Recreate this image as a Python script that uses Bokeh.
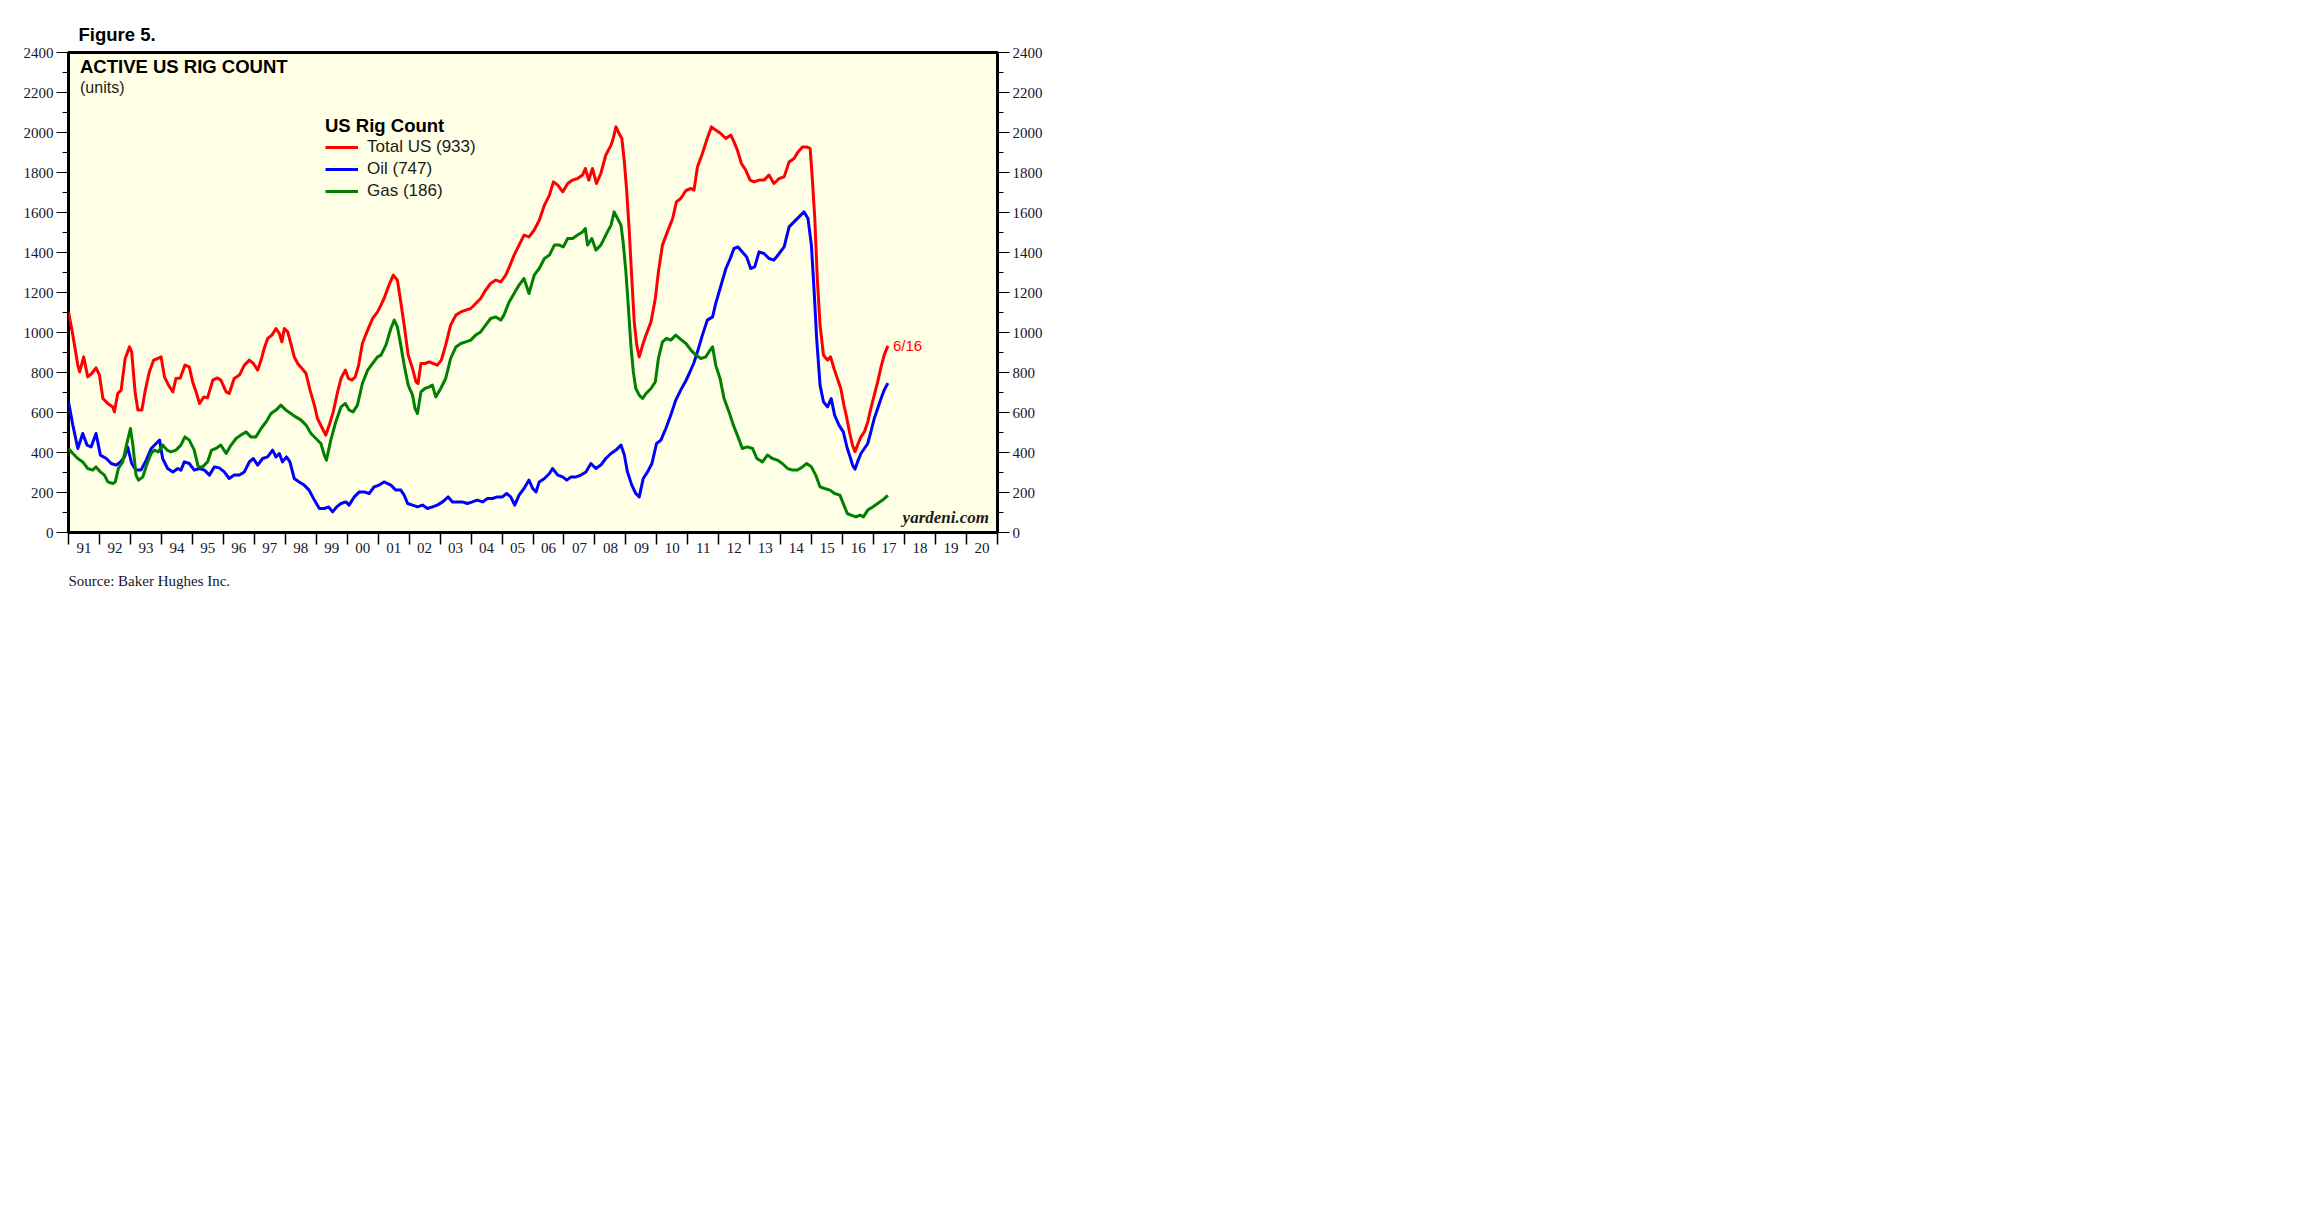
from bokeh.plotting import figure
from bokeh.models import Range1d, FixedTicker, LinearAxis, Label, Legend, LegendItem, Title
from bokeh.embed import file_html
from bokeh.resources import INLINE

# ---- data ----
total_dates = [1991.00, 1991.14, 1991.30, 1991.36, 1991.49, 1991.62, 1991.75, 1991.89, 1992.00, 1992.11,
               1992.27, 1992.43, 1992.48, 1992.59, 1992.70, 1992.83, 1992.97, 1993.04, 1993.15, 1993.24,
               1993.37, 1993.47, 1993.61, 1993.75, 1993.88, 1993.99, 1994.10, 1994.23, 1994.37, 1994.47,
               1994.61, 1994.76, 1994.90, 1995.01, 1995.12, 1995.23, 1995.37, 1995.49, 1995.66, 1995.80,
               1995.92, 1996.09, 1996.19, 1996.35, 1996.52, 1996.68, 1996.84, 1996.97, 1997.11, 1997.22,
               1997.32, 1997.43, 1997.57, 1997.70, 1997.81, 1997.89, 1997.97, 1998.08, 1998.18, 1998.29,
               1998.40, 1998.54, 1998.67, 1998.80, 1998.94, 1999.04, 1999.20, 1999.31, 1999.42, 1999.55,
               1999.69, 1999.80, 1999.94, 2000.04, 2000.15, 2000.26, 2000.37, 2000.49, 2000.66, 2000.82,
               2000.98, 2001.09, 2001.19, 2001.35, 2001.49, 2001.62, 2001.73, 2001.84, 2001.97, 2002.11,
               2002.22, 2002.29, 2002.38, 2002.51, 2002.65, 2002.78, 2002.91, 2003.04, 2003.18, 2003.34,
               2003.51, 2003.67, 2003.83, 2003.99, 2004.15, 2004.31, 2004.47, 2004.63, 2004.80, 2004.96,
               2005.12, 2005.26, 2005.39, 2005.55, 2005.71, 2005.87, 2006.03, 2006.20, 2006.37, 2006.53,
               2006.66, 2006.80, 2006.96, 2007.12, 2007.28, 2007.44, 2007.60, 2007.69, 2007.80, 2007.92,
               2008.05, 2008.19, 2008.35, 2008.52, 2008.59, 2008.68, 2008.78, 2008.87, 2008.95, 2009.02,
               2009.11, 2009.19, 2009.27, 2009.35, 2009.43, 2009.54, 2009.65, 2009.81, 2009.95, 2010.05,
               2010.18, 2010.34, 2010.51, 2010.63, 2010.77, 2010.94, 2011.10, 2011.20, 2011.31, 2011.47,
               2011.61, 2011.76, 2011.90, 2012.06, 2012.23, 2012.39, 2012.49, 2012.60, 2012.73, 2012.87,
               2013.01, 2013.14, 2013.30, 2013.46, 2013.62, 2013.78, 2013.95, 2014.11, 2014.27, 2014.43,
               2014.56, 2014.70, 2014.84, 2014.95, 2015.02, 2015.10, 2015.18, 2015.27, 2015.38, 2015.51,
               2015.61, 2015.72, 2015.83, 2015.94, 2016.04, 2016.11, 2016.22, 2016.32, 2016.40, 2016.48,
               2016.59, 2016.70, 2016.81, 2016.91, 2017.02, 2017.13, 2017.24, 2017.34, 2017.46]
total_vals = [1103, 987, 837, 803, 878, 778, 795, 823, 787, 670,
              645, 628, 603, 695, 712, 870, 928, 903, 703, 612,
              612, 703, 803, 862, 870, 878, 778, 737, 703, 770,
              773, 837, 828, 753, 703, 645, 678, 673, 762, 773,
              762, 703, 695, 770, 787, 837, 862, 845, 812, 862,
              920, 970, 987, 1020, 995, 953, 1020, 1003, 945, 878,
              845, 820, 795, 712, 637, 570, 520, 487, 537, 603,
              703, 770, 812, 770, 762, 778, 837, 945, 1012, 1070,
              1103, 1137, 1170, 1237, 1287, 1262, 1153, 1037, 887, 820,
              753, 745, 845, 845, 853, 845, 837, 862, 937, 1037,
              1087, 1103, 1112, 1120, 1145, 1170, 1212, 1245, 1262, 1253,
              1287, 1337, 1387, 1437, 1487, 1478, 1510, 1560, 1637, 1687,
              1753, 1737, 1703, 1745, 1762, 1770, 1787, 1820, 1762, 1820,
              1745, 1795, 1887, 1937, 1970, 2028, 1995, 1970, 1853, 1720,
              1503, 1270, 1053, 937, 878, 937, 987, 1053, 1170, 1303,
              1437, 1503, 1570, 1653, 1670, 1710, 1720, 1712, 1828, 1895,
              1962, 2028, 2012, 1995, 1970, 1987, 1953, 1912, 1845, 1812,
              1762, 1753, 1762, 1762, 1787, 1745, 1770, 1778, 1853, 1870,
              1903, 1928, 1928, 1920, 1770, 1570, 1270, 1037, 887, 862,
              878, 820, 770, 720, 637, 590, 503, 435, 404, 437,
              478, 503, 553, 620, 687, 753, 828, 887, 933]

oil_dates = [1991.00, 1991.14, 1991.30, 1991.46, 1991.60, 1991.73, 1991.89, 1992.03, 1992.22, 1992.38,
             1992.54, 1992.68, 1992.81, 1992.91, 1993.04, 1993.18, 1993.34, 1993.51, 1993.67, 1993.83,
             1993.94, 1994.04, 1994.20, 1994.37, 1994.53, 1994.63, 1994.74, 1994.90, 1995.06, 1995.23,
             1995.39, 1995.55, 1995.71, 1995.87, 1996.03, 1996.19, 1996.35, 1996.52, 1996.68, 1996.84,
             1996.97, 1997.11, 1997.27, 1997.43, 1997.59, 1997.70, 1997.81, 1997.91, 1998.04, 1998.15,
             1998.29, 1998.45, 1998.61, 1998.77, 1998.94, 1999.10, 1999.26, 1999.40, 1999.53, 1999.66,
             1999.80, 1999.96, 2000.06, 2000.23, 2000.39, 2000.55, 2000.71, 2000.87, 2001.03, 2001.19,
             2001.41, 2001.57, 2001.73, 2001.84, 2001.95, 2002.11, 2002.27, 2002.43, 2002.59, 2002.75,
             2002.91, 2003.08, 2003.26, 2003.40, 2003.56, 2003.72, 2003.88, 2004.04, 2004.20, 2004.37,
             2004.53, 2004.69, 2004.85, 2005.01, 2005.15, 2005.28, 2005.41, 2005.55, 2005.71, 2005.87,
             2005.99, 2006.10, 2006.20, 2006.37, 2006.53, 2006.63, 2006.80, 2006.96, 2007.09, 2007.23,
             2007.39, 2007.55, 2007.71, 2007.87, 2008.03, 2008.19, 2008.35, 2008.52, 2008.68, 2008.84,
             2008.95, 2009.05, 2009.19, 2009.32, 2009.43, 2009.56, 2009.70, 2009.84, 2009.99, 2010.13,
             2010.29, 2010.45, 2010.61, 2010.77, 2010.94, 2011.06, 2011.20, 2011.31, 2011.47, 2011.63,
             2011.80, 2011.90, 2012.01, 2012.12, 2012.23, 2012.37, 2012.49, 2012.62, 2012.76, 2012.90,
             2013.03, 2013.16, 2013.30, 2013.46, 2013.62, 2013.78, 2013.95, 2014.11, 2014.27, 2014.43,
             2014.59, 2014.75, 2014.88, 2014.99, 2015.08, 2015.16, 2015.27, 2015.38, 2015.51, 2015.63,
             2015.74, 2015.88, 2016.02, 2016.15, 2016.24, 2016.32, 2016.40, 2016.48, 2016.59, 2016.70,
             2016.81, 2016.91, 2017.02, 2017.13, 2017.24, 2017.34, 2017.46]
oil_vals = [653, 537, 420, 495, 437, 428, 495, 387, 370, 345,
            337, 353, 378, 428, 345, 312, 312, 362, 420, 445,
            462, 370, 320, 303, 320, 312, 353, 345, 312, 320,
            312, 287, 328, 323, 303, 270, 287, 287, 303, 353,
            370, 337, 370, 378, 412, 378, 395, 353, 378, 353,
            270, 253, 237, 212, 162, 120, 120, 128, 103, 128,
            145, 153, 137, 178, 203, 203, 195, 228, 237, 253,
            237, 212, 212, 187, 145, 137, 128, 137, 120, 128,
            137, 153, 178, 153, 153, 153, 145, 153, 162, 153,
            170, 170, 178, 178, 195, 178, 137, 187, 220, 262,
            220, 203, 253, 270, 295, 320, 287, 278, 262, 278,
            278, 287, 303, 345, 320, 337, 370, 395, 412, 437,
            387, 303, 237, 195, 178, 270, 303, 345, 445, 462,
            520, 587, 662, 712, 760, 800, 850, 903, 987, 1062,
            1078, 1145, 1203, 1262, 1320, 1370, 1420, 1428, 1403, 1378,
            1320, 1328, 1403, 1395, 1370, 1362, 1395, 1428, 1528, 1553,
            1578, 1603, 1570, 1437, 1203, 970, 737, 653, 628, 670,
            587, 537, 503, 420, 378, 337, 317, 353, 395, 420,
            445, 503, 570, 620, 670, 712, 747]

gas_dates = [1991.00, 1991.14, 1991.30, 1991.46, 1991.62, 1991.78, 1991.89, 1992.03, 1992.16, 1992.27,
             1992.43, 1992.51, 1992.61, 1992.75, 1992.91, 1993.00, 1993.08, 1993.18, 1993.26, 1993.40,
             1993.54, 1993.67, 1993.77, 1993.90, 1994.04, 1994.18, 1994.31, 1994.47, 1994.63, 1994.76,
             1994.90, 1995.06, 1995.19, 1995.33, 1995.49, 1995.62, 1995.76, 1995.92, 1996.09, 1996.25,
             1996.41, 1996.57, 1996.73, 1996.89, 1997.05, 1997.22, 1997.38, 1997.54, 1997.70, 1997.86,
             1998.02, 1998.18, 1998.34, 1998.51, 1998.67, 1998.83, 1998.99, 1999.15, 1999.26, 1999.33,
             1999.47, 1999.63, 1999.80, 1999.94, 2000.06, 2000.19, 2000.33, 2000.49, 2000.66, 2000.82,
             2000.98, 2001.09, 2001.25, 2001.41, 2001.52, 2001.62, 2001.73, 2001.84, 2001.97, 2002.11,
             2002.19, 2002.27, 2002.38, 2002.51, 2002.65, 2002.75, 2002.86, 2003.02, 2003.18, 2003.34,
             2003.51, 2003.67, 2003.83, 2003.99, 2004.15, 2004.31, 2004.47, 2004.63, 2004.80, 2004.96,
             2005.06, 2005.23, 2005.39, 2005.55, 2005.71, 2005.87, 2006.04, 2006.20, 2006.37, 2006.53,
             2006.69, 2006.85, 2006.98, 2007.12, 2007.28, 2007.44, 2007.60, 2007.69, 2007.76, 2007.90,
             2008.03, 2008.19, 2008.35, 2008.52, 2008.62, 2008.73, 2008.84, 2008.91, 2009.00, 2009.09,
             2009.16, 2009.24, 2009.32, 2009.43, 2009.54, 2009.65, 2009.81, 2009.95, 2010.05, 2010.18,
             2010.31, 2010.45, 2010.61, 2010.77, 2010.94, 2011.10, 2011.26, 2011.42, 2011.58, 2011.72,
             2011.80, 2011.90, 2012.04, 2012.17, 2012.33, 2012.47, 2012.62, 2012.76, 2012.92, 2013.09,
             2013.23, 2013.41, 2013.57, 2013.73, 2013.89, 2014.05, 2014.22, 2014.38, 2014.54, 2014.70,
             2014.84, 2014.99, 2015.13, 2015.27, 2015.42, 2015.59, 2015.74, 2015.91, 2016.04, 2016.15,
             2016.27, 2016.43, 2016.56, 2016.67, 2016.81, 2016.97, 2017.13, 2017.29, 2017.46]
gas_vals = [420, 395, 370, 353, 320, 312, 328, 303, 287, 253,
            245, 253, 320, 353, 462, 520, 437, 287, 262, 278,
            345, 395, 412, 403, 437, 412, 403, 412, 437, 478,
            462, 412, 328, 328, 353, 412, 420, 437, 395, 437,
            470, 487, 503, 478, 478, 520, 553, 595, 612, 637,
            612, 595, 578, 562, 537, 495, 470, 445, 387, 362,
            462, 553, 628, 645, 612, 603, 637, 745, 812, 845,
            878, 887, 937, 1020, 1062, 1028, 937, 837, 737, 687,
            620, 595, 703, 720, 728, 737, 678, 720, 770, 870,
            928, 945, 953, 962, 987, 1003, 1037, 1070, 1078, 1062,
            1087, 1153, 1195, 1237, 1270, 1195, 1287, 1320, 1370, 1387,
            1437, 1437, 1428, 1470, 1470, 1487, 1503, 1520, 1437, 1470,
            1412, 1437, 1487, 1537, 1603, 1570, 1537, 1453, 1303, 1103,
            937, 803, 720, 687, 670, 695, 720, 753, 870, 953,
            970, 962, 987, 966, 945, 912, 887, 870, 878, 912,
            928, 837, 770, 670, 603, 537, 478, 420, 428, 420,
            370, 353, 387, 370, 362, 345, 320, 312, 312, 328,
            345, 328, 287, 228, 220, 212, 195, 187, 137, 95,
            87, 78, 87, 78, 112, 128, 145, 162, 186]

year_ticks = list(range(1991, 2022))
year_labels = ["91", "92", "93", "94", "95", "96", "97", "98", "99", "00",
               "01", "02", "03", "04", "05", "06", "07", "08", "09", "10",
               "11", "12", "13", "14", "15", "16", "17", "18", "19", "20"]
y_major = list(range(0, 2401, 200))
y_minor = list(range(100, 2400, 200))

series_names = ["Total US (933)", "Oil (747)", "Gas (186)"]
series_colors = ["#FF0000", "#0000FF", "#007F00"]

SANS = "Liberation Sans"
SERIF = "Liberation Serif"
TICK_COLOR = "#15152e"

p = figure(frame_width=929, frame_height=480,
           x_range=Range1d(1991, 2021), y_range=Range1d(0, 2400),
           output_backend="svg", toolbar_location=None,
           min_border_left=68, min_border_top=52, min_border_right=70, min_border_bottom=80,
           background_fill_color="#FFFFE5", border_fill_color="white",
           outline_line_color="black", outline_line_width=3)
p.grid.visible = False

# title "Figure 5." above the frame
p.title.text = "Figure 5."
p.title.align = "left"
p.title.offset = 10
p.title.standoff = 15
p.title.text_font = SANS
p.title.text_font_style = "bold"
p.title.text_font_size = "18.5px"
p.title.text_color = "black"

# x axis: boundary ticks as minor ticks, labels at mid-year
mid_years = [y + 0.5 for y in year_ticks[:-1]]
xa = p.xaxis[0]
xa.ticker = FixedTicker(ticks=mid_years, minor_ticks=year_ticks)
xa.major_label_overrides = {m: lab for m, lab in zip(mid_years, year_labels)}
xa.major_tick_out = 0
xa.major_tick_in = 0
xa.minor_tick_out = 12
xa.minor_tick_in = 0
xa.minor_tick_line_color = "black"
xa.minor_tick_line_width = 1.5
xa.axis_line_color = None
xa.major_label_standoff = -2
xa.major_label_text_font = SERIF
xa.major_label_text_font_size = "15px"
xa.major_label_text_color = TICK_COLOR


def style_y(ax):
    ax.ticker = FixedTicker(ticks=y_major, minor_ticks=y_minor)
    ax.major_tick_out = 12
    ax.major_tick_in = 0
    ax.minor_tick_out = 6
    ax.minor_tick_in = 0
    ax.major_tick_line_color = "black"
    ax.minor_tick_line_color = "black"
    ax.axis_line_color = None
    ax.major_label_standoff = 3
    ax.major_label_text_font = SERIF
    ax.major_label_text_font_size = "15px"
    ax.major_label_text_color = TICK_COLOR


style_y(p.yaxis[0])
right_axis = LinearAxis()
style_y(right_axis)
p.add_layout(right_axis, "right")

# source note below the x axis
p.add_layout(Title(text="Source: Baker Hughes Inc.", align="left", offset=0, standoff=30,
                   text_font=SERIF, text_font_style="normal", text_font_size="15px",
                   text_color=TICK_COLOR), "below")

r_total = p.line(total_dates, total_vals, line_color=series_colors[0], line_width=3, line_join="round")
r_oil = p.line(oil_dates, oil_vals, line_color=series_colors[1], line_width=3, line_join="round")
r_gas = p.line(gas_dates, gas_vals, line_color=series_colors[2], line_width=3, line_join="round")

legend = Legend(items=[LegendItem(label=series_names[0], renderers=[r_total]),
                       LegendItem(label=series_names[1], renderers=[r_oil]),
                       LegendItem(label=series_names[2], renderers=[r_gas])],
                location=(257, 331), title="US Rig Count",
                title_text_font=SANS, title_text_font_style="bold", title_text_font_size="18.5px",
                title_text_color="black", title_standoff=0,
                label_text_font=SANS, label_text_font_size="17px", label_text_color="#1a1a1a",
                glyph_width=33, glyph_height=18, label_height=18, label_standoff=9, spacing=2,
                padding=0, margin=0, border_line_color=None, background_fill_alpha=0)
p.add_layout(legend)

p.add_layout(Label(x=1991, y=2400, x_offset=11.5, y_offset=-24.5, text="ACTIVE US RIG COUNT",
                   text_font=SANS, text_font_style="bold", text_font_size="18.5px", text_color="black"))
p.add_layout(Label(x=1991, y=2400, x_offset=11.5, y_offset=-43, text="(units)",
                   text_font=SANS, text_font_size="16px", text_color="#1a1a1a"))
p.add_layout(Label(x=total_dates[-1], y=total_vals[-1], x_offset=5, text="6/16",
                   text_baseline="middle", text_font=SANS, text_font_size="15px",
                   text_color=series_colors[0]))
p.add_layout(Label(x=2021, y=0, x_offset=-8.5, y_offset=6, text="yardeni.com", text_align="right",
                   text_font=SERIF, text_font_style="bold italic", text_font_size="17px",
                   text_color="#1a1a1a"))

open("out.html", "w").write(file_html(p, INLINE))
